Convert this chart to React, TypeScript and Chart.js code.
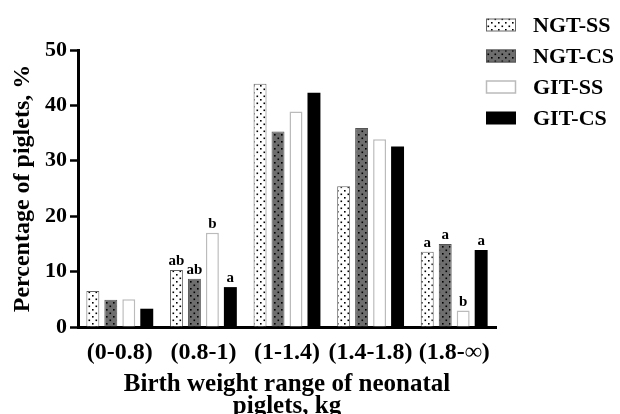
import React, { useEffect, useRef } from "react";
import { Chart, registerables } from "chart.js";

Chart.register(...registerables);

// ---------- data ----------
const categories = ["(0-0.8)", "(0.8-1)", "(1-1.4)", "(1.4-1.8)", "(1.8-∞)"];
const seriesNames = ["NGT-SS", "NGT-CS", "GIT-SS", "GIT-CS"];
const ngtSS = [6.5, 10.3, 43.9, 25.4, 13.6];
const ngtCS = [4.9, 8.7, 35.3, 35.9, 15.0];
const gitSS = [5.0, 17.0, 38.9, 33.9, 3.0];
const gitCS = [3.3, 7.2, 42.3, 32.6, 13.9];
const ngtSSLetters = ["", "ab", "", "", "a"];
const ngtCSLetters = ["", "ab", "", "", "a"];
const gitSSLetters = ["", "b", "", "", "b"];
const gitCSLetters = ["", "a", "", "", "a"];
const yTicks = [0, 10, 20, 30, 40, 50];
const yTitle = "Percentage of piglets, %";
const xTitle = ["Birth weight range of neonatal", "piglets, kg"];

const FONT = "'Liberation Serif', 'Times New Roman', serif";

function makeDotPattern(bg: string): CanvasPattern | string {
  const tile = document.createElement("canvas");
  tile.width = 7;
  tile.height = 7;
  const c = tile.getContext("2d");
  if (!c) return bg;
  c.fillStyle = bg;
  c.fillRect(0, 0, 7, 7);
  c.fillStyle = "#000";
  c.fillRect(1, 1, 1.6, 1.6);
  c.fillRect(4.5, 4.5, 1.6, 1.6);
  const p = c.createPattern(tile, "repeat");
  return p || bg;
}

const letterPlugin = {
  id: "barLetters",
  afterDatasetsDraw(chart: any) {
    const ctx = chart.ctx;
    ctx.save();
    ctx.font = `bold 15px ${FONT}`;
    ctx.fillStyle = "#000";
    ctx.textAlign = "center";
    ctx.textBaseline = "bottom";
    chart.data.datasets.forEach((ds: any, i: number) => {
      const meta = chart.getDatasetMeta(i);
      meta.data.forEach((bar: any, j: number) => {
        const t = ds.letters?.[j];
        if (t) ctx.fillText(t, bar.x, bar.y - 1);
      });
    });
    ctx.restore();
  },
};

const legendPlugin = {
  id: "sideLegend",
  afterDraw(chart: any) {
    const ctx = chart.ctx;
    const boxX = 486;
    const boxW = 30;
    const boxH = 13;
    const textX = 533;
    const rowY0 = 25;
    const rowGap = 31;
    ctx.save();
    ctx.font = `bold 22px ${FONT}`;
    ctx.textAlign = "left";
    ctx.textBaseline = "middle";
    chart.data.datasets.forEach((ds: any, i: number) => {
      const cy = rowY0 + i * rowGap;
      const y = cy - boxH / 2;
      ctx.fillStyle = ds.backgroundColor;
      ctx.fillRect(boxX, y, boxW, boxH);
      if (ds.borderWidth > 0) {
        ctx.strokeStyle = ds.borderColor;
        ctx.lineWidth = ds.borderWidth;
        ctx.strokeRect(boxX + 0.5, y + 0.5, boxW - 1, boxH - 1);
      }
      ctx.fillStyle = "#000";
      ctx.fillText(ds.label, textX, cy + 1);
    });
    ctx.restore();
  },
};

export default function App() {
  const ref = useRef<HTMLCanvasElement | null>(null);

  useEffect(() => {
    document.body.style.margin = "0";
    const canvas = ref.current;
    if (!canvas) return;

    const datasets = [
      {
        label: seriesNames[0],
        data: ngtSS,
        letters: ngtSSLetters,
        backgroundColor: makeDotPattern("#ffffff"),
        borderColor: "#666666",
        borderWidth: 1,
      },
      {
        label: seriesNames[1],
        data: ngtCS,
        letters: ngtCSLetters,
        backgroundColor: makeDotPattern("#6e6e6e"),
        borderColor: "#555555",
        borderWidth: 1,
      },
      {
        label: seriesNames[2],
        data: gitSS,
        letters: gitSSLetters,
        backgroundColor: "#ffffff",
        borderColor: "#bbbbbb",
        borderWidth: 1.5,
      },
      {
        label: seriesNames[3],
        data: gitCS,
        letters: gitCSLetters,
        backgroundColor: "#000000",
        borderColor: "#000000",
        borderWidth: 0,
      },
    ];

    const chart = new Chart(canvas, {
      type: "bar",
      data: { labels: categories, datasets: datasets as any },
      plugins: [letterPlugin, legendPlugin],
      options: {
        animation: false,
        responsive: false,
        devicePixelRatio: 1,
        layout: { padding: { top: 50, right: 124, left: 0, bottom: -3 } },
        datasets: {
          bar: { categoryPercentage: 0.86, barPercentage: 0.72 },
        },
        plugins: {
          legend: { display: false },
          tooltip: { enabled: false },
          title: { display: false },
        },
        scales: {
          x: {
            grid: { display: true, drawOnChartArea: false, drawTicks: false },
            border: { display: true, color: "#000", width: 3 },
            ticks: {
              color: "#000",
              padding: 11,
              font: { family: FONT, size: 24, weight: "bold" },
              maxRotation: 0,
              autoSkip: false,
            },
            title: {
              display: true,
              text: xTitle,
              color: "#000",
              font: { family: FONT, size: 25, weight: "bold", lineHeight: 0.86 },
              padding: { top: 0, bottom: 0 },
            },
            afterFit(scale: any) {
              scale.height = 90;
            },
          },
          y: {
            min: 0,
            max: 50,
            afterBuildTicks(scale: any) {
              scale.ticks = yTicks.map((v) => ({ value: v }));
            },
            grid: {
              display: true,
              drawOnChartArea: false,
              drawTicks: true,
              tickLength: 8,
              tickColor: "#000",
              tickWidth: 2.5,
            },
            border: { display: true, color: "#000", width: 3 },
            ticks: {
              color: "#000",
              padding: 3,
              font: { family: FONT, size: 22, weight: "bold" },
            },
            title: {
              display: true,
              text: yTitle,
              color: "#000",
              font: { family: FONT, size: 24, weight: "bold", lineHeight: 1 },
              padding: { top: 11, bottom: 0 },
            },
            afterFit(scale: any) {
              scale.width = 78;
            },
          },
        },
      } as any,
    });

    return () => chart.destroy();
  }, []);

  return (
    <div style={{ width: 620, height: 414, background: "#fff" }}>
      <canvas ref={ref} width={620} height={414} />
    </div>
  );
}
